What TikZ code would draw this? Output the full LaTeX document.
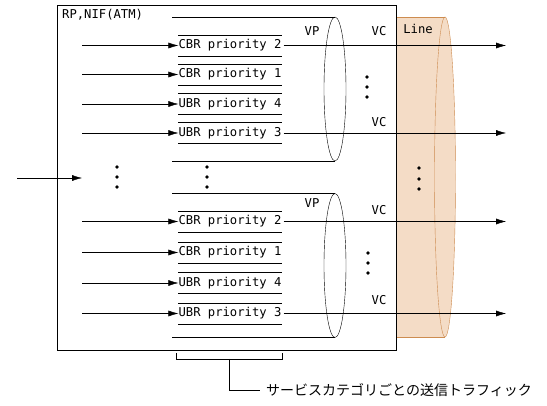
\documentclass[tikz,border=0pt]{standalone}
\usepackage{fontspec}
\setmainfont{DejaVu Sans Mono}
\newfontfamily\jpfont{Noto Sans CJK JP}
\usetikzlibrary{arrows.meta}
\definecolor{linefill}{RGB}{244,220,198}
\definecolor{lineedge}{RGB}{205,140,80}
\tikzset{queue/.style={minimum width=102pt, minimum height=21pt, inner sep=0pt, font=\fontsize{12.2}{13}\selectfont},
  lbl/.style={inner sep=0pt, font=\fontsize{12.2}{13}\selectfont},
  dot/.style={fill=black, inner sep=1.3pt, circle},
  flow/.style={-{Latex[length=10pt,width=6pt]}}}

\begin{document}
\begin{tikzpicture}[x=1pt,y=-1pt]
      \useasboundingbox (0,0) rectangle (547,406);
      \def\vpx{335}
      \def\qx{230}
      % the line cylinder, partly behind the box
      \fill [linefill] (396,17) rectangle (445,337);
      \fill [linefill] (445,177) ellipse [x radius=10.5, y radius=160];
      \draw [lineedge] (396,17) -- (445,17) (396,337) -- (445,337);
      \draw [lineedge] (445,177) ellipse [x radius=10.5, y radius=160];
      \draw (57,5) rectangle (396,350);
      \node [lbl, anchor=west] (rp) at (62,15) {RP,NIF(ATM)};
      \node [lbl] (line) at (418,29) {Line};
      % VP cylinders
      \foreach \y/\v in {89/1, 265.5/2} {
        \draw (172,\y-72) -- (\vpx,\y-72) (172,\y+72) -- (\vpx,\y+72);
        \draw (\vpx,\y) ellipse [x radius=11, y radius=72];
      }
      \node [lbl] (vp1) at (312,31) {VP};
      \node [lbl] (vp2) at (312,203) {VP};
      \node [lbl] (vc1) at (379,31) {VC};
      \node [lbl] (vc2) at (379,122) {VC};
      \node [lbl] (vc3) at (379,210) {VC};
      \node [lbl] (vc4) at (379,300) {VC};
      % queues
      \foreach \q/\y/\t in {u1/45.5/CBR priority 2, u2/74.5/CBR priority 1, u3/104/UBR priority 4, u4/133/UBR priority 3,
                            l1/221.5/CBR priority 2, l2/252.5/CBR priority 1, l3/283/UBR priority 4, l4/313.5/UBR priority 3} {
        \node [queue] (\q) at (\qx,\y) {\t};
        \draw (\q.north west) -- (\q.north east) (\q.south west) -- (\q.south east);
        \coordinate (\q-in) at (82,\y);
        \draw [flow] (\q-in) -- (\q);
      }
      % VC connections
      \foreach \q in {u1, u4, l1, l4} {
        \coordinate (\q-out) at (506,0 |- \q.east);
        \draw [flow] ([xshift=2pt]\q.east) -- (\q-out);
      }
      \coordinate (src) at (17,178);
      \coordinate (dst) at (82,178);
      \draw [flow] (src) -- (dst);
      % dots
      \foreach \x/\y [count=\i] in {117/167, 117/177, 117/187, 207/167, 207/177, 207/187,
                                    367/77, 367/87, 367/97, 368/253, 368/263, 368/273,
                                    419/168, 419/179, 419/189}
        \node [dot] (d\i) at (\x,\y) {};
      % service category note
      \draw (176,353) -- (176,359) -- (282,359) -- (282,353);
      \coordinate (brace) at (229,359);
      \node [anchor=west, inner xsep=6pt, inner ysep=0pt, font=\jpfont\fontsize{14}{16}\selectfont] (note) at (260,390) {サービスカテゴリごとの送信トラフィック};
      \draw (brace) |- (note.west);
    \end{tikzpicture}
\end{document}
